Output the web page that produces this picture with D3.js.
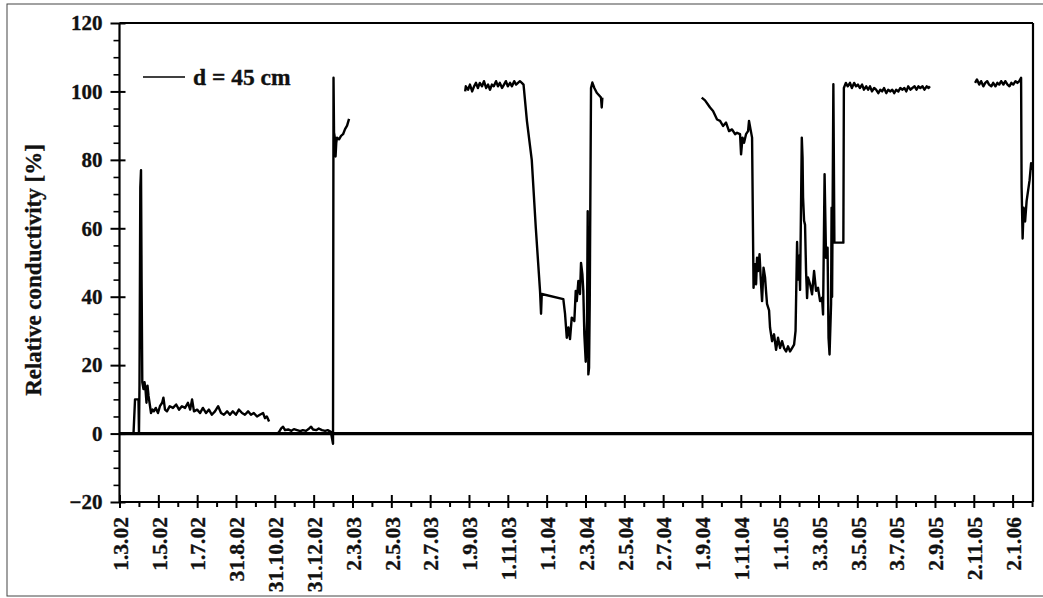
<!DOCTYPE html>
<html>
<head>
<meta charset="utf-8">
<script src="https://cdn.jsdelivr.net/npm/d3@7/dist/d3.min.js"></script>
<style>
  html, body { margin: 0; padding: 0; background: #fff; }
  svg { display: block; }
  text { font-family: "Liberation Serif", "Times New Roman", serif; font-weight: bold; fill: #111; }
</style>
</head>
<body>
<svg id="chart" width="1043" height="598"></svg>
<script>
// ---- data (x = days since 1.3.2002, y = relative conductivity %) ----
const tickDays = [0,61,122,183,244,305,366,427,488,549,610,671,732,793,854,915,976,1037,1098,1159,1220,1281,1342,1403];
const tickLabels = ["1.3.02","1.5.02","1.7.02","31.8.02","31.10.02","31.12.02","2.3.03","2.5.03","2.7.03","1.9.03","1.11.03","1.1.04","2.3.04","2.5.04","2.7.04","1.9.04","1.11.04","1.1.05","3.3.05","3.5.05","3.7.05","2.9.05","2.11.05","2.1.06"];
const yTicks = [-20,0,20,40,60,80,100,120];
const seriesName = "d = 45 cm";

const seg1 = [[22,0],[24.4,10],[29.8,10],[30.6,0],[31.4,14],[32.7,72],[33.8,77],[34.7,45],[35.8,15],[37.7,13],[39.3,15],[40.8,13],[42.4,9],[44,14],[45.6,11],[48,8],[49.5,6],[52,7],[54,6.5],[57,7.5],[60.5,6],[63.5,8],[67,9],[69,10.5],[71.5,7],[74.5,6.5],[79,8],[84,7.5],[89,8.5],[93.5,7],[98,8],[103,7.5],[107.5,9],[111,7],[114,10],[117,6.5],[122,7],[126.5,6],[131,7.5],[136,6],[140.5,7],[145,5.5],[150,6.5],[155,8],[159.5,6],[164,5.5],[169,6.5],[173.5,5.5],[178,6.5],[183,5.5],[187.5,7],[192.5,6],[197,5.5],[202,6.5],[206.5,5.5],[211,6],[216,5],[220.5,5.5],[225.5,6],[228.5,4.5],[231.5,5],[235,3.5]];

const seg2 = [[246,0],[250,0.3],[254,1.5],[257,2],[260,1],[265,1.2],[270,0.8],[274,1.3],[279,1],[284,0.7],[288,1],[293,0.8],[298,1.5],[301,2],[304,1.2],[309,1],[313,1.5],[318,1],[323,0.8],[327,1],[332,0.5],[335.4,-3],[336.2,104],[337,88],[338.6,86],[339.4,81],[340.5,85],[341.7,86.5],[344.9,86],[348,87],[351.2,87.5],[354.3,89],[357.5,90],[360.6,92]];

const seg3 = [[543,100],[544,101.5],[547.5,100.5],[550.5,102],[554,100],[557,101.5],[560,102.5],[563,101],[566,102.5],[569.5,101.5],[572.5,103],[576,101],[579,102],[582,100.5],[585,102],[588,101.5],[591.5,103],[594.5,101.5],[597.5,102.5],[601,101],[604,102],[607,103],[610,101.5],[613.5,102.5],[616.5,101.5],[620,103],[623,102],[626,102.5],[629,103],[632,102.5],[634.7,102],[640,91.4],[647.6,80],[654,60],[660.6,41.7],[662.2,35],[663.3,40.8],[697.2,39.3],[699.9,35],[702.6,28],[705.1,31],[707.7,27.6],[710.4,33.9],[714.5,32.9],[716.7,41.7],[718.3,38.7],[720.8,44.6],[723.4,40.8],[725,49.9],[727.1,46.6],[728.6,41.7],[730.2,29],[732.4,21],[734.4,32.9],[735.5,65],[736.5,17.3],[737.6,19.2],[738.7,38.7],[740.7,101],[742.8,102.6],[745.9,101],[749.7,99.6],[752.2,99.1],[756.4,98.2],[757.5,95.3],[758.5,98.2]];

const seg4 = [[914.6,98.2],[919.8,97.4],[927.7,95.3],[932.4,94.3],[938.7,91.8],[943.4,91.4],[948.1,89.9],[952.8,90.9],[957.5,88.4],[962.2,88.9],[967,87.5],[970.1,87.9],[974.8,87.5],[976.4,81.6],[978.7,86.5],[981.1,85],[984.2,87.5],[987.4,88.4],[988.9,91.4],[991.3,88.9],[993.7,86.5],[996,42.6],[998.4,49.5],[1000,43.6],[1001.5,51.4],[1003.1,47.5],[1005.4,52.4],[1007.8,43.6],[1009.4,38.7],[1011.7,48.5],[1014.1,45.6],[1015.6,41.7],[1017.2,37.9],[1020.4,36],[1021.9,31],[1025.1,27],[1028.2,29],[1031.4,24.5],[1034.5,28],[1037.7,25],[1040.8,27],[1043.9,25],[1047.1,24],[1050.2,25.5],[1053.4,24],[1056.5,25],[1059.7,26],[1062,30],[1064.4,56],[1066,45],[1067.6,52],[1069.1,42],[1071.8,86.5],[1073,80.6],[1073.8,69],[1075.4,62.2],[1076.9,61],[1078.5,47.5],[1080.1,39.6],[1081.6,45.6],[1084.8,43.7],[1087.9,40.7],[1091.1,47.5],[1094.2,41.7],[1097.3,42.6],[1100.5,38.7],[1103.6,39.7],[1105.2,34.8],[1107.6,75.8],[1109.9,51.4],[1112.3,54.3],[1113.8,28],[1115.4,23.1],[1117.8,37.9],[1118.6,66],[1119.4,40],[1121.4,102.1],[1123,55.8],[1137.1,55.8],[1137.9,101],[1141,102.5],[1144,101.5],[1147.5,102.5],[1150.5,101],[1154,102.5],[1157,101.5],[1160,102],[1163,101],[1166.5,102],[1169.5,100.5],[1173,101.5],[1176,100.5],[1179,101.5],[1182,100],[1185.5,101],[1188.5,100.5],[1192,99.5],[1195,100.5],[1198,100],[1201,101],[1204.5,99.5],[1207.5,100.5],[1211,100],[1214,100.5],[1217,99.5],[1220,100.5],[1223.5,100],[1226.5,101],[1230,100.5],[1233,101],[1236,100],[1239,101.5],[1242.5,100.5],[1245.5,101],[1249,101.5],[1252,100.5],[1255,101.5],[1258,101],[1261.5,101.5],[1264.5,100.5],[1268,101.5],[1271,101],[1273,101.5]];

const seg5 = [[1344,102.5],[1347,103.5],[1350.5,102],[1353.5,103],[1357,101.5],[1360,102.5],[1363,103],[1366,102],[1369.5,101.5],[1372.5,102.5],[1376,101.5],[1379,102.5],[1382,102],[1385,103],[1388.5,102],[1391.5,103],[1395,102],[1398,101.5],[1401,102.5],[1404,102],[1407.5,103],[1410.5,102.5],[1413.5,103],[1416.3,104],[1417.1,72],[1418.7,57],[1420.3,66],[1422.6,62],[1425,68],[1427.3,71],[1429.6,74],[1432,79],[1433.5,77]];

const segments = [seg1, seg2, seg3, seg4, seg5];

// ---- drawing ----
const svg = d3.select("#chart");
const x = d3.scaleLinear().domain([0, 1435]).range([119.5, 1033]);
const y = d3.scaleLinear().domain([-20, 120]).range([502, 23]);
const inkText = sel => sel.style("stroke", "#111").style("stroke-width", "0.35px");

// outer frame of the figure
svg.append("rect").attr("x", 7).attr("y", 4).attr("width", 1060).attr("height", 592)
  .attr("fill", "none").attr("stroke", "#444").attr("stroke-width", 1);

// zero line
svg.append("line").attr("x1", x(0)).attr("x2", x(1435)).attr("y1", y(0)).attr("y2", y(0))
  .attr("stroke", "#000").attr("stroke-width", 3.2);

// data line
const line = d3.line().x(d => x(d[0])).y(d => y(d[1]));
svg.append("g").selectAll("path").data(segments).join("path")
  .attr("d", line).attr("fill", "none").attr("stroke", "#000")
  .attr("stroke-width", 2.4).attr("stroke-linejoin", "round");

// plot frame (top and right)
svg.append("line").attr("x1", x(0)).attr("x2", x(1435)).attr("y1", y(120)).attr("y2", y(120))
  .attr("stroke", "#000").attr("stroke-width", 2.2);
svg.append("line").attr("x1", x(1435)).attr("x2", x(1435)).attr("y1", y(120)).attr("y2", y(-20))
  .attr("stroke", "#000").attr("stroke-width", 2.2);

// x axis
const xAxis = svg.append("g").attr("transform", `translate(0,${y(-20)})`)
  .call(d3.axisBottom(x).tickValues(tickDays).tickFormat((d, i) => tickLabels[i]).tickSize(6));
xAxis.select(".domain").remove();
xAxis.selectAll(".tick line").attr("y1", -7).attr("stroke-width", 2);
xAxis.selectAll(".tick text")
  .attr("transform", "rotate(-90)")
  .attr("text-anchor", "end")
  .attr("x", -15).attr("y", 0).attr("dy", "0.36em")
  .style("font-size", "21.5px").style("font-family", "'Liberation Serif', serif").style("font-weight", "bold")
  .call(inkText);
const xMinor = svg.append("g").attr("transform", `translate(0,${y(-20)})`)
  .call(d3.axisBottom(x).tickValues(tickDays.map(d => d + 30.5)).tickFormat("").tickSize(5));
xMinor.select(".domain").remove();
xMinor.selectAll(".tick line").attr("stroke-width", 2);
svg.append("line").attr("x1", x(0)).attr("x2", x(1435)).attr("y1", y(-20)).attr("y2", y(-20))
  .attr("stroke", "#000").attr("stroke-width", 2.2);

// y axis
const yAxis = svg.append("g").attr("transform", `translate(${x(0)},0)`)
  .call(d3.axisLeft(y).tickValues(yTicks).tickSize(9));
yAxis.select(".domain").remove();
yAxis.selectAll(".tick line").attr("x1", 6).attr("stroke-width", 2);
yAxis.selectAll(".tick text").attr("x", -17)
  .style("font-size", "21px").style("font-family", "'Liberation Serif', serif").style("font-weight", "bold")
  .call(inkText);
const yMinor = svg.append("g").attr("transform", `translate(${x(0)},0)`)
  .call(d3.axisLeft(y).tickValues(d3.range(-15, 120, 5).filter(v => v % 20 !== 0)).tickFormat("").tickSize(6));
yMinor.select(".domain").remove();
yMinor.selectAll(".tick line").attr("stroke-width", 1.6);
svg.append("line").attr("x1", x(0)).attr("x2", x(0)).attr("y1", y(120)).attr("y2", y(-20))
  .attr("stroke", "#000").attr("stroke-width", 2.2);

// y title
svg.append("text")
  .attr("transform", `translate(33,270) rotate(-90)`)
  .attr("text-anchor", "middle").attr("dy", "0.35em")
  .style("font-size", "23px")
  .call(inkText)
  .text("Relative conductivity [%]");

// legend
svg.append("line").attr("x1", 143).attr("x2", 185).attr("y1", 77).attr("y2", 77)
  .attr("stroke", "#000").attr("stroke-width", 1.6);
svg.append("text").attr("x", 193).attr("y", 85).style("font-size", "23.5px").call(inkText).text(seriesName);
</script>
</body>
</html>
